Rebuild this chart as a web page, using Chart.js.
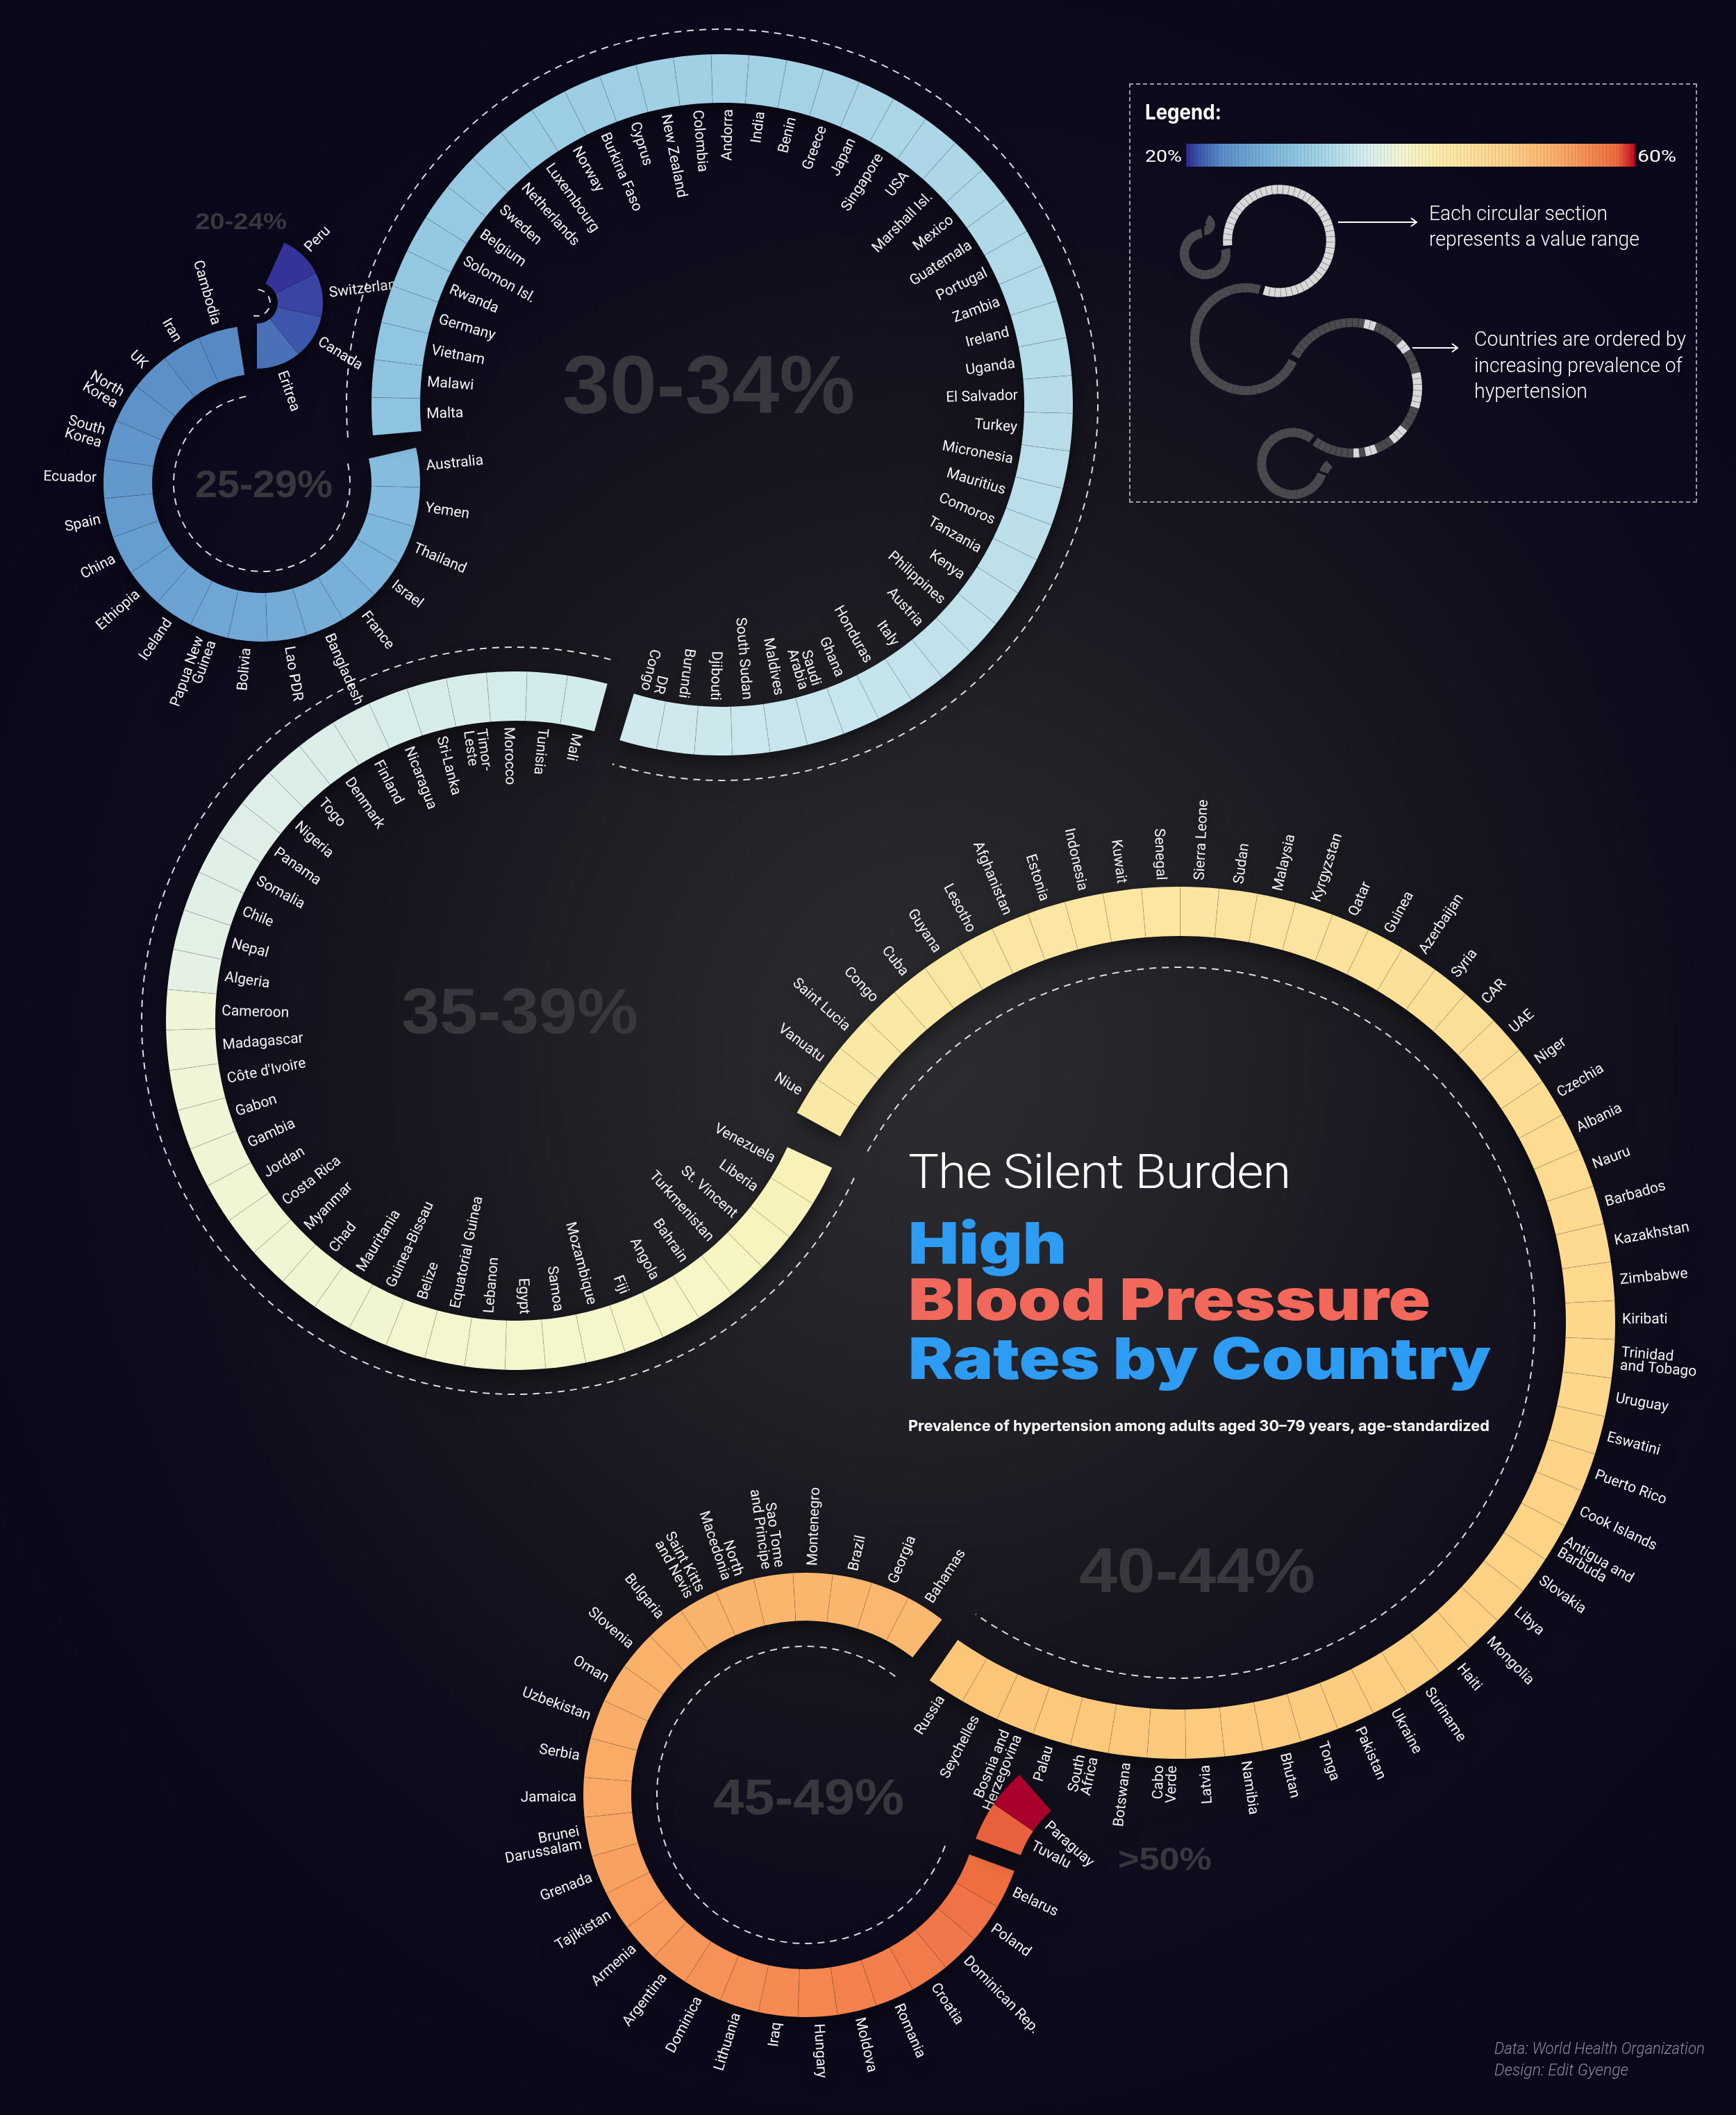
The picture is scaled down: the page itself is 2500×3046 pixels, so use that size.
<!DOCTYPE html>
<html lang="en">
<head>
<meta charset="utf-8">
<title>The Silent Burden - High Blood Pressure Rates by Country</title>
<script src="https://cdn.jsdelivr.net/npm/chart.js@4.4.1/dist/chart.umd.min.js"></script>
<style>
  html, body { margin:0; padding:0; }
  body { width:2500px; height:3046px; position:relative; overflow:hidden; background:#09071a; }
  #bg { position:absolute; left:0; top:0; width:2500px; height:3046px;
    background: radial-gradient(ellipse 1500px 1650px at 1330px 1520px, #2d2d31 0%, #222228 28%, #17161f 52%, #0d0b1c 78%, #09071a 100%); }
  canvas.ring { position:absolute; }
  canvas.main { filter: drop-shadow(0 10px 14px rgba(0,0,0,0.45)); }
  .t { position:absolute; white-space:nowrap; line-height:1; transform-origin:0 0; color:#fff; }
  .rng { font-family:"Liberation Sans", Arial, sans-serif; font-weight:700; color:#38373e; }
  #legendBox { position:absolute; left:1626px; top:120px; width:818px; height:604px; box-sizing:border-box;
    border:2px dashed rgba(255,255,255,0.6); }
  #bar { position:absolute; left:1708px; top:207px; width:647px; height:33px;
    background: linear-gradient(90deg, #2a2a8a 0%, #3d58ac 3%, #5a8cc6 8%, #79b2d8 18%, #a3d3e6 30%, #d5edf0 40%,
      #f3f6d2 48%, #fbeeb2 54%, #fde3a0 62%, #fccf88 72%, #f9b06c 82%, #f38a52 90%, #ec6a3e 96%, #c8202a 99%, #b00020 100%); }
  #bar::after { content:""; position:absolute; left:0; top:0; right:0; bottom:0;
    background: repeating-linear-gradient(90deg, rgba(0,0,0,0.10) 0 1px, transparent 1px 5px); }
  #arrows { position:absolute; left:0; top:0; }
</style>
</head>
<body>
<div id="bg"></div>
<div id="stage"></div>

<div id="legendBox"></div>
<div class="t" data-w="110" style="left:1649px;top:143px;font:700 30px Inter">Legend:</div>
<div class="t" data-w="53" style="left:1649px;top:211px;font:400 24px Roboto">20%</div>
<div id="bar"></div>
<div class="t" data-w="56" style="left:2358px;top:211px;font:400 24px Roboto">60%</div>
<div class="t" data-w="257" style="left:2058px;top:290px;font:300 29px Roboto">Each circular section</div>
<div class="t" data-w="303" style="left:2058px;top:327px;font:300 29px Roboto">represents a value range</div>
<div class="t" data-w="305" style="left:2123px;top:471px;font:300 29px Roboto">Countries are ordered by</div>
<div class="t" data-w="300" style="left:2123px;top:509px;font:300 29px Roboto">increasing prevalence of</div>
<div class="t" data-w="163" style="left:2123px;top:546px;font:300 29px Roboto">hypertension</div>
<svg id="arrows" width="2500" height="800">
  <g stroke="#fff" stroke-width="2" fill="none">
    <line x1="1927" y1="320" x2="2040" y2="320"/>
    <polyline points="2032,314 2040,320 2032,326"/>
    <line x1="2034" y1="501" x2="2099" y2="501"/>
    <polyline points="2091,495 2099,501 2091,507"/>
  </g>
</svg>

<div class="t" data-w="550" style="left:1308px;top:1648px;font:300 68px Roboto;letter-spacing:-1px">The Silent Burden</div>
<div class="t" data-w="228" style="left:1308px;top:1740px;font:900 83px Inter;color:#2e9cf2">High</div>
<div class="t" data-w="752" style="left:1308px;top:1821px;font:900 83px Inter;color:#f2685a">Blood Pressure</div>
<div class="t" data-w="839" style="left:1308px;top:1906px;font:900 83px Inter;color:#2e9cf2">Rates by Country</div>
<div class="t" data-w="837" style="left:1308px;top:2040px;font:700 22px Inter">Prevalence of hypertension among adults aged 30–79 years, age-standardized</div>

<div class="t" data-w="303" style="left:2152px;top:2937px;font:italic 300 23px Roboto;color:#8c8a99">Data: World Health Organization</div>
<div class="t" data-w="193" style="left:2152px;top:2968px;font:italic 300 23px Roboto;color:#8c8a99">Design: Edit Gyenge</div>

<script>
// ---- data (countries ordered by increasing prevalence, %) ----
const rangeLabels = ["20-24%", "25-29%", "30-34%", "35-39%", "40-44%", "45-49%", ">50%"];

const countries20 = ["Peru", "Switzerland", "Canada", "Eritrea"];
const values20 = [21.1, 22.4, 23.2, 24.6];

const countries25 = ["Cambodia", "Iran", "UK", "North\nKorea", "South\nKorea", "Ecuador", "Spain", "China", "Ethiopia",
  "Iceland", "Papua New\nGuinea", "Bolivia", "Lao PDR", "Bangladesh", "France", "Israel", "Thailand", "Yemen", "Australia"];
const values25 = [25.1, 25.3, 25.6, 25.8, 26.1, 26.3, 26.6, 26.8, 27.0, 27.3, 27.5, 27.7, 28.0, 28.2, 28.4, 28.7, 28.9, 29.2, 29.5];

const countries30 = ["Malta", "Malawi", "Vietnam", "Germany", "Rwanda", "Solomon Isl.", "Belgium", "Sweden", "Netherlands",
  "Luxembourg", "Norway", "Burkina Faso", "Cyprus", "New Zealand", "Colombia", "Andorra", "India", "Benin", "Greece", "Japan",
  "Singapore", "USA", "Marshall Isl.", "Mexico", "Guatemala", "Portugal", "Zambia", "Ireland", "Uganda", "El Salvador",
  "Turkey", "Micronesia", "Mauritius", "Comoros", "Tanzania", "Kenya", "Philippines", "Austria", "Italy", "Honduras",
  "Ghana", "Saudi\nArabia", "Maldives", "South Sudan", "Djibouti", "Burundi", "DR\nCongo"];
const values30 = [30.0, 30.1, 30.2, 30.3, 30.5, 30.6, 30.7, 30.8, 30.9, 31.0, 31.1, 31.3, 31.4, 31.5, 31.6, 31.7,
  31.8, 31.9, 32.0, 32.2, 32.3, 32.4, 32.5, 32.6, 32.7, 32.8, 32.9, 33.0, 33.1, 33.2, 33.3, 33.4, 33.5, 33.6,
  33.7, 33.8, 33.9, 34.0, 34.1, 34.2, 34.3, 34.4, 34.5, 34.6, 34.7, 34.8, 34.9];

const countries35 = ["Mali", "Tunisia", "Morocco", "Timor-\nLeste", "Sri-Lanka", "Nicaragua", "Finland", "Denmark", "Togo",
  "Nigeria", "Panama", "Somalia", "Chile", "Nepal", "Algeria", "Cameroon", "Madagascar", "Côte d'Ivoire", "Gabon", "Gambia",
  "Jordan", "Costa Rica", "Myanmar", "Chad", "Mauritania", "Guinea-Bissau", "Belize", "Equatorial Guinea", "Lebanon",
  "Egypt", "Samoa", "Mozambique", "Fiji", "Angola", "Bahrain", "Turkmenistan", "St. Vincent", "Liberia", "Venezuela"];
const values35 = [35.0, 35.1, 35.2, 35.4, 35.5, 35.6, 35.7, 35.8, 35.9, 36.0, 36.2, 36.3, 36.4, 36.6, 36.7, 36.9,
  37.0, 37.1, 37.2, 37.4, 37.5, 37.6, 37.7, 37.8, 37.9, 38.0, 38.1, 38.2, 38.4, 38.5, 38.6, 38.7, 38.9, 39.0,
  39.1, 39.3, 39.4, 39.6, 39.8];

const countries40 = ["Niue", "Vanuatu", "Saint Lucia", "Congo", "Cuba", "Guyana", "Lesotho", "Afghanistan", "Estonia",
  "Indonesia", "Kuwait", "Senegal", "Sierra Leone", "Sudan", "Malaysia", "Kyrgyzstan", "Qatar", "Guinea", "Azerbaijan",
  "Syria", "CAR", "UAE", "Niger", "Czechia", "Albania", "Nauru", "Barbados", "Kazakhstan", "Zimbabwe", "Kiribati",
  "Trinidad\nand Tobago", "Uruguay", "Eswatini", "Puerto Rico", "Cook Islands", "Antigua and\nBarbuda", "Slovakia", "Libya",
  "Mongolia", "Haiti", "Suriname", "Ukraine", "Pakistan", "Tonga", "Bhutan", "Namibia", "Latvia", "Cabo\nVerde",
  "Botswana", "South\nAfrica", "Palau", "Bosnia and\nHerzegovina", "Seychelles", "Russia"];
const values40 = [40.0, 40.1, 40.1, 40.2, 40.4, 40.5, 40.5, 40.7, 40.8, 40.9, 41.0, 41.0, 41.2, 41.3, 41.4, 41.4,
  41.6, 41.7, 41.8, 41.9, 42.0, 42.1, 42.1, 42.3, 42.4, 42.5, 42.6, 42.6, 42.8, 42.9, 43.0, 43.0, 43.2, 43.3,
  43.4, 43.5, 43.5, 43.7, 43.8, 43.9, 44.0, 44.0, 44.1, 44.2, 44.3, 44.3, 44.4, 44.5, 44.6, 44.6, 44.7, 44.8, 44.9, 44.9];

const countries45 = ["Bahamas", "Georgia", "Brazil", "Montenegro", "Sao Tome\nand Principe", "North\nMacedonia",
  "Saint Kitts\nand Nevis", "Bulgaria", "Slovenia", "Oman", "Uzbekistan", "Serbia", "Jamaica", "Brunei\nDarussalam",
  "Grenada", "Tajikistan", "Armenia", "Argentina", "Dominica", "Lithuania", "Iraq", "Hungary", "Moldova", "Romania",
  "Croatia", "Dominican Rep.", "Poland", "Belarus"];
const values45 = [45.0, 45.1, 45.3, 45.4, 45.5, 45.7, 45.8, 45.9, 46.1, 46.2, 46.4, 46.5, 46.7, 46.8, 47.0, 47.2,
  47.3, 47.5, 47.7, 47.8, 48.0, 48.2, 48.4, 48.6, 48.8, 49.0, 49.2, 49.5];

const countries50 = ["Tuvalu", "Paraguay"];
const values50 = [51.4, 58.0];

// ---- styling / layout ----
const colorStops = [
  [20, '#2b2a8e'], [21.1, '#34339a'], [22.4, '#3a44a2'], [23.2, '#3d55ab'], [24.6, '#4a70b8'],
  [25.1, '#578ac4'], [27, '#69a0d1'], [29.5, '#86bddf'],
  [30, '#8ec4e0'], [31.8, '#a3d2e5'], [34.9, '#cfe9ee'],
  [35, '#d3ebed'], [36.7, '#e4f1e4'], [36.9, '#eef5d9'], [39, '#f6f6c8'], [39.8, '#f9f2b8'],
  [40, '#fae9a6'], [41.2, '#fce5a1'], [42.9, '#fdd88c'], [44.9, '#fcc679'],
  [45, '#fbb86f'], [46.2, '#fab06a'], [46.8, '#f9a764'], [47.5, '#f7965a'], [48.2, '#f4864f'], [49, '#f0774a'], [49.5, '#ee6e42'],
  [51.4, '#e8613c'], [58, '#a8002a'], [60, '#960022']
];

const groups = [
  { names: countries20, values: values20 },
  { names: countries25, values: values25 },
  { names: countries30, values: values30 },
  { names: countries35, values: values35 },
  { names: countries40, values: values40 },
  { names: countries45, values: values45 },
  { names: countries50, values: values50 }
];

// ring geometry: centre, outer/inner radius, start angle (deg from top, clockwise), span, direction
const layout = [
  { cx: 370, cy: 436, r: 95, inner: 30, start: 24.5, span: 155.5, cw: true, side: 'out', flip: [0, 180], dash: { r: 19, from: 5, to: 195 } },
  { cx: 377, cy: 696, r: 228, inner: 158, start: 77, span: 274, cw: false, side: 'out', flip: [0, 180], dash: { r: 127 } },
  { cx: 1040, cy: 583, r: 505, inner: 435, start: 265, span: 292, cw: true, side: 'in', flip: [0, 200], dash: { r: 541 } },
  { cx: 742, cy: 1470, r: 503, inner: 432, start: 114.9, span: 260.4, cw: false, side: 'in', flip: [20, 180], dash: { r: 538 } },
  { cx: 1698, cy: 1905, r: 628, inner: 557, start: -61.2, span: 276.1, cw: true, side: 'out', flip: [0, 174], dash: { r: 512 } },
  { cx: 1160, cy: 2585, r: 320, inner: 251, start: 110, span: 287.9, cw: false, side: 'out', flip: [0, 180], dash: { r: 214 } },
  { cx: 1619, cy: 2727, r: 228, inner: 159, start: 290.3, span: 28.3, cw: true, side: 'in', flip: [0, 180] }
];

// range label boxes: left, cap top, width, cap height
const rangeBoxes = [
  [281, 306, 132, 24], [281, 676, 198, 40], [810, 511, 421, 85], [578, 1421, 341, 67],
  [1554, 2229, 340, 65], [1027, 2562, 275, 52], [1610, 2660, 135, 33]
];

const MINI = { ax: 1040, ay: 583, x: 1842, y: 347, s: 0.16, thick: 13 };
const miniHighlight40 = [14, 15, 21, 22, 27, 28, 29, 30, 31, 32, 37, 38, 39, 43, 44, 46];

const LABEL_FONT = '400 21px Roboto';
const LABEL_LH = 19;

function hex(c) { return [1, 3, 5].map(i => parseInt(c.substr(i, 2), 16)); }
function colorFor(v) {
  for (let i = 1; i < colorStops.length; i++) {
    if (v <= colorStops[i][0]) {
      const [v0, c0] = colorStops[i - 1], [v1, c1] = colorStops[i];
      const t = Math.max(0, Math.min(1, (v - v0) / (v1 - v0)));
      const a = hex(c0), b = hex(c1);
      return 'rgb(' + a.map((x, k) => Math.round(x + (b[k] - x) * t)).join(',') + ')';
    }
  }
  return colorStops[colorStops.length - 1][1];
}
function rad(deg) { return (deg - 90) * Math.PI / 180; }

function decor(cfg) {
  return {
    id: 'ringDecor',
    beforeDatasetsDraw(chart) {
      if (!cfg.dash) return;
      const arcs = chart.getDatasetMeta(0).data;
      const a0 = cfg.dash.from != null ? rad(cfg.dash.from) : arcs[0].startAngle;
      const a1 = cfg.dash.to != null ? rad(cfg.dash.to) : arcs[cfg.n - 1].endAngle;
      const ctx = chart.ctx;
      ctx.save();
      ctx.strokeStyle = 'rgba(255,255,255,0.85)';
      ctx.lineWidth = 2;
      ctx.setLineDash([10, 8]);
      ctx.beginPath();
      ctx.arc(arcs[0].x, arcs[0].y, cfg.dash.r, a0, a1);
      ctx.stroke();
      ctx.restore();
    },
    afterDatasetsDraw(chart) {
      const ctx = chart.ctx;
      const arcs = chart.getDatasetMeta(0).data;
      ctx.save();
      // separators between slices
      if (cfg.sep) {
        ctx.strokeStyle = cfg.sep;
        ctx.lineWidth = 1;
        for (let i = 1; i < cfg.n; i++) {
          const a = arcs[i].startAngle, el = arcs[i];
          ctx.beginPath();
          ctx.moveTo(el.x + Math.cos(a) * el.innerRadius, el.y + Math.sin(a) * el.innerRadius);
          ctx.lineTo(el.x + Math.cos(a) * el.outerRadius, el.y + Math.sin(a) * el.outerRadius);
          ctx.stroke();
        }
      }
      if (cfg.labels) {
        ctx.font = LABEL_FONT;
        ctx.fillStyle = '#f2f2f4';
        ctx.textBaseline = 'middle';
        for (let i = 0; i < cfg.n; i++) {
          const el = arcs[i];
          const a = (el.startAngle + el.endAngle) / 2;
          let deg = (a * 180 / Math.PI + 90) % 360;
          if (deg < 0) deg += 360;
          const t = ((deg - cfg.flip[0]) % 360 + 360) % 360;
          const outward = t <= cfg.flip[1] - cfg.flip[0];
          const rr = cfg.side === 'in' ? el.innerRadius - 9 : el.outerRadius + 10;
          ctx.save();
          ctx.translate(el.x + Math.cos(a) * rr, el.y + Math.sin(a) * rr);
          ctx.rotate(outward ? a : a + Math.PI);
          if (cfg.side === 'in') ctx.textAlign = outward ? 'right' : 'left';
          else ctx.textAlign = outward ? 'left' : 'right';
          const lines = cfg.labels[i].split('\n');
          lines.forEach((ln, k) => ctx.fillText(ln, 0, (k - (lines.length - 1) / 2) * LABEL_LH));
          ctx.restore();
        }
      }
      ctx.restore();
    }
  };
}

function buildRing(group, lay, mini, gi) {
  const names = lay.cw ? group.names.slice() : group.names.slice().reverse();
  const vals = lay.cw ? group.values.slice() : group.values.slice().reverse();
  const n = names.length;
  const s = mini ? MINI.s : 1;
  const cx = mini ? MINI.x + (lay.cx - MINI.ax) * s : lay.cx;
  const cy = mini ? MINI.y + (lay.cy - MINI.ay) * s : lay.cy;
  const R = lay.r * s;
  const inner = mini ? Math.max(R - MINI.thick, 2) : lay.inner;
  const pad = mini ? 4 : 270;
  const size = Math.ceil(2 * (R + pad));

  let colors;
  if (!mini) colors = vals.map(colorFor);
  else if (gi === 2) colors = vals.map(() => '#d9d9d9');
  else if (gi === 4) colors = vals.map((v, i) => miniHighlight40.includes(i) ? '#d9d9d9' : '#4a4a4e');
  else colors = vals.map(() => '#4a4a4e');

  const canvas = document.createElement('canvas');
  canvas.className = mini ? 'ring' : 'ring main';
  canvas.width = size;
  canvas.height = size;
  canvas.style.left = (cx - size / 2) + 'px';
  canvas.style.top = (cy - size / 2) + 'px';
  document.getElementById('stage').appendChild(canvas);

  const spacer = n * (360 - lay.span) / lay.span;
  new Chart(canvas, {
    type: 'doughnut',
    data: {
      labels: names.concat(['']),
      datasets: [{
        data: names.map(() => 1).concat([spacer]),
        backgroundColor: colors.concat(['rgba(0,0,0,0)']),
        borderWidth: 0,
        hoverOffset: 0
      }]
    },
    options: {
      responsive: false,
      animation: false,
      devicePixelRatio: 1,
      events: [],
      rotation: lay.start,
      circumference: 360,
      radius: R,
      cutout: (inner / R * 100) + '%',
      layout: { padding: 0 },
      plugins: { legend: { display: false }, tooltip: { enabled: false } }
    },
    plugins: [decor({
      n: n,
      side: lay.side,
      flip: lay.flip,
      dash: mini ? null : lay.dash,
      labels: mini ? null : names,
      sep: mini ? (gi === 2 || gi === 4 ? 'rgba(0,0,0,0.22)' : null) : 'rgba(0,0,0,0.14)'
    })]
  });
}

groups.forEach((g, i) => buildRing(g, layout[i], false, i));
groups.forEach((g, i) => buildRing(g, layout[i], true, i));

// range labels
rangeLabels.forEach((txt, i) => {
  const [x, capTop, w, capH] = rangeBoxes[i];
  const size = capH / 0.716;
  const d = document.createElement('div');
  d.className = 't rng';
  d.textContent = txt;
  d.style.fontSize = size + 'px';
  d.style.left = x + 'px';
  d.style.top = (capTop - 0.131 * size) + 'px';
  d.dataset.w = w;
  document.body.appendChild(d);
});

// fit text widths to the reference
document.querySelectorAll('.t[data-w]').forEach(el => {
  const w = el.getBoundingClientRect().width;
  if (w > 0) el.style.transform = 'scaleX(' + (parseFloat(el.dataset.w) / w) + ')';
});
</script>
</body>
</html>
